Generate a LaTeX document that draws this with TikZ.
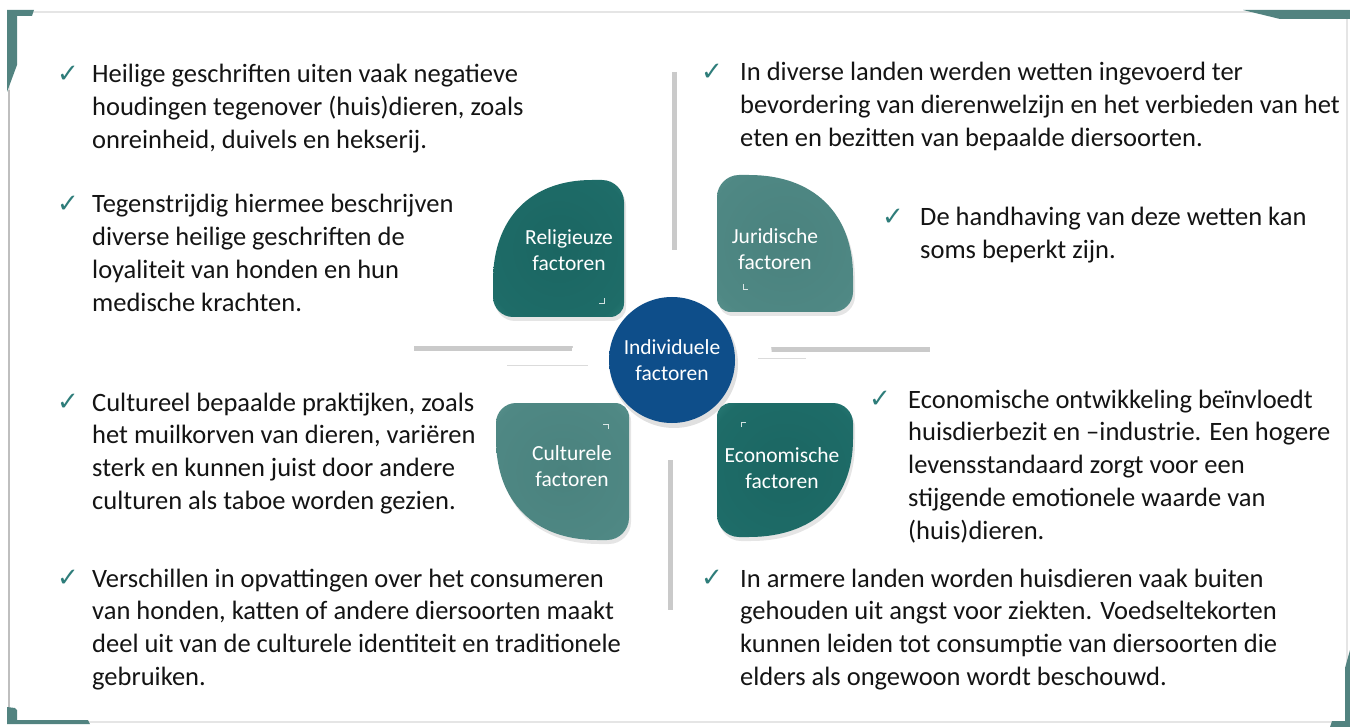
\documentclass[tikz,border=0pt]{standalone}
\usepackage{fontspec}
\setmainfont{Carlito}
\newfontfamily\chkfont{DejaVu Sans}
\definecolor{frameteal}{RGB}{82,131,128}
\definecolor{chkcol}{RGB}{46,125,122}
\definecolor{linegray}{RGB}{202,202,202}
\definecolor{bodytext}{RGB}{20,20,20}
\definecolor{dkin}{RGB}{27,102,98}
\definecolor{dkmid}{RGB}{30,108,104}
\definecolor{dkout}{RGB}{62,152,145}
\definecolor{gyin}{RGB}{74,130,126}
\definecolor{gymid}{RGB}{79,136,132}
\definecolor{gyout}{RGB}{108,164,158}
\definecolor{blin}{RGB}{14,78,138}
\definecolor{blout}{RGB}{48,108,166}
\definecolor{haloc}{RGB}{214,214,214}
\pgfdeclareradialshading{qdark}{\pgfpointorigin}{color(0bp)=(dkin); color(30bp)=(dkmid); color(47bp)=(dkout); color(75bp)=(dkout)}
\pgfdeclareradialshading{qgray}{\pgfpointorigin}{color(0bp)=(gyin); color(30bp)=(gymid); color(47bp)=(gyout); color(75bp)=(gyout)}
\pgfdeclareradialshading{qblue}{\pgfpointorigin}{color(0bp)=(blin); color(40bp)=(blin); color(50bp)=(blout); color(60bp)=(blout)}
\pgfdeclareradialshading{halo}{\pgfpointorigin}{color(0bp)=(white); color(33bp)=(white); color(37bp)=(white); color(43bp)=(haloc); color(50bp)=(white); color(70bp)=(white)}
\newcommand\qdraw[3]{%
  \path[#1] (0,-14) -- (0,{-#3+22}) .. controls (0,{-#3+10}) and (-10,-#3) .. (-22,-#3)
    -- (-32,-#3) .. controls ({-32-0.62*(#2-32)},-#3) and (-#2,{-36-0.62*(#3-36)}) .. (-#2,-36)
    -- (-#2,-20) .. controls (-#2,-9) and ({-#2+9},0) .. ({-#2+20},0)
    -- (-14,0) .. controls (-6,0) and (0,-6) .. (0,-14) -- cycle;}
\newcommand\qshapeat[7]{%
  \begin{scope}[shift={(#1+2,#2+4)},xscale=#3,yscale=#4]
    \qdraw{fill=black,opacity=.10}{#5}{#6}
  \end{scope}
  \begin{scope}[shift={(#1,#2)},xscale=#3,yscale=#4]
    \qdraw{shade,shading=#7}{#5}{#6}
  \end{scope}}
\newcommand\bulletblock[5]{%
  \node[chk] (#1c) at (#2,#4-9) {✓};
  \foreach \bline [count=\i from 0] in {#5}{%
    \node[txt] (#1l\i) at (#3,#4+\i*32.8) {\bline};
  }%
}
\begin{document}
\begin{tikzpicture}[x=1pt,y=-1pt,
  txt/.style={anchor=base west, inner sep=0pt, font=\fontsize{26.5}{33}\selectfont, text=bodytext},
  chk/.style={inner sep=0pt, font=\chkfont\fontsize{26}{26}\selectfont, text=chkcol},
  lbl/.style={align=center, inner sep=0pt, text=white, font=\fontsize{21.5}{26}\selectfont},
  xline/.style={draw=linegray, line width=5pt},
  thinline/.style={draw=black!14, line width=.6pt},
  tinyarrow/.style={draw=white, opacity=.8, line width=.8pt},
]
\useasboundingbox (0,0) rectangle (1350,727);
\fill[white] (0,0) rectangle (1350,727);
% frame
\draw[black!10, line width=1.5pt] (9,12) rectangle (1347,722);
\draw[black!25, line width=2pt] (8.5,90) -- (8.5,710);
\fill[frameteal] (7,10) -- (34,10) -- (32,16) -- (17,16) -- (17,65) -- (7,92) -- cycle;
\fill[frameteal] (1243,10) -- (1350,10) -- (1350,19) -- (1280,19) -- cycle;
\fill[frameteal] (1345,668) -- (1350,650) -- (1350,727) -- (1330,727) -- (1332,721) -- (1345,721) -- cycle;
\fill[frameteal] (7,707) -- (15,708) -- (17,710) -- (17,720) -- (88,720) -- (90,724) -- (7,724) -- cycle;
% cross lines
\coordinate (vt1) at (674,72);  \coordinate (vt2) at (674,250);
\coordinate (vb1) at (670,437); \coordinate (vb2) at (670,610);
\coordinate (hl1) at (414,349); \coordinate (hl2) at (590,349);
\coordinate (hr1) at (755,350); \coordinate (hr2) at (930,350);
\draw[xline] (vt1) -- (vt2);
\draw[xline] (vb1) -- (vb2);
\draw[xline] (hl1) -- (hl2);
\draw[xline] (hr1) -- (hr2);
% halo
\shade[shading=halo] (672,360) circle (100);
\coordinate (tl1) at (507,365); \coordinate (tl2) at (588,365);
\coordinate (tr1) at (758,358); \coordinate (tr2) at (806,358);
\draw[thinline] (tl1) -- (tl2);
\draw[thinline] (tr1) -- (tr2);
% quarter shapes
\qshapeat{624}{317}{1}{1}{131}{137}{qdark}
\qshapeat{717}{312}{-1}{1}{136}{137}{qgray}
\qshapeat{629}{403}{1}{-1}{133}{137}{qgray}
\qshapeat{717}{403}{-1}{-1}{136}{134}{qdark}
% tiny arrows
\draw[tinyarrow] (599,303) -- (604,303) -- (604,298);
\draw[tinyarrow] (743,284) -- (743,289) -- (748,289);
\draw[tinyarrow] (603,424) -- (608,424) -- (608,429);
\draw[tinyarrow] (741,427) -- (741,422) -- (746,422);
% centre circle
\fill[black,opacity=.12] (674,364) circle (64);
\shade[shading=qblue] (672,360) circle (63);
% labels
\node[lbl] (rel) at (569,250) {Religieuze\\factoren};
\node[lbl] (jur) at (775,249) {Juridische\\factoren};
\node[lbl] (ind) at (672,360) {Individuele\\factoren};
\node[lbl] (cul) at (572,466) {Culturele\\factoren};
\node[lbl] (eco) at (782,468) {Economische\\factoren};
% bullets left
\bulletblock{La}{68}{92}{83}{{Heilige geschriften uiten vaak negatieve},{houdingen tegenover (huis)dieren, zoals},{onreinheid, duivels en hekserij.}}
\bulletblock{Lb}{68}{92}{213}{{Tegenstrijdig hiermee beschrijven},{diverse heilige geschriften de},{loyaliteit van honden en hun},{medische krachten.}}
\bulletblock{Lc}{68}{92}{411}{{Cultureel bepaalde praktijken, zoals},{het muilkorven van dieren, variëren},{sterk en kunnen juist door andere},{culturen als taboe worden gezien.}}
\bulletblock{Ld}{68}{92}{587}{{Verschillen in opvattingen over het consumeren},{van honden, katten of andere diersoorten maakt},{deel uit van de culturele identiteit en traditionele},{gebruiken.}}
% bullets right
\bulletblock{Ra}{712}{740}{81}{{In diverse landen werden wetten ingevoerd ter},{bevordering van dierenwelzijn en het verbieden van het},{eten en bezitten van bepaalde diersoorten.}}
\bulletblock{Rb}{893}{920}{226}{{De handhaving van deze wetten kan},{soms beperkt zijn.}}
\bulletblock{Rc}{880}{908}{408}{{Economische ontwikkeling beïnvloedt},{huisdierbezit en –industrie. Een hogere},{levensstandaard zorgt voor een},{stijgende emotionele waarde van},{(huis)dieren.}}
\bulletblock{Rd}{712}{740}{587}{{In armere landen worden huisdieren vaak buiten},{gehouden uit angst voor ziekten. Voedseltekorten},{kunnen leiden tot consumptie van diersoorten die},{elders als ongewoon wordt beschouwd.}}
\end{tikzpicture}
\end{document}
